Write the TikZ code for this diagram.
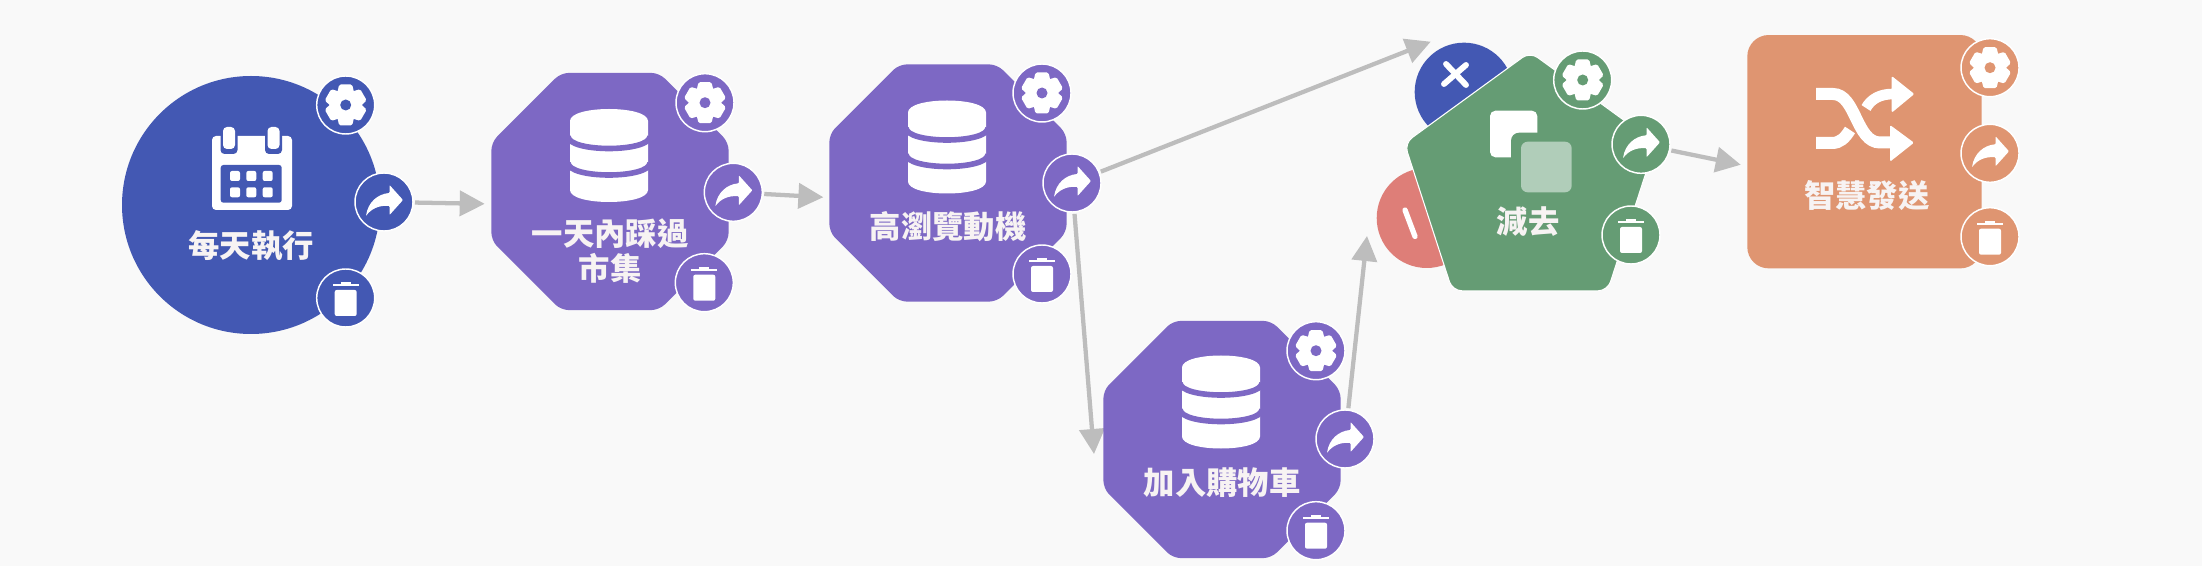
\documentclass[tikz,border=0pt]{standalone}
\usepackage{fontspec}
\usetikzlibrary{arrows.meta,shapes.geometric,backgrounds}
\newfontfamily\cjk{Noto Sans CJK TC}
\definecolor{bgc}{HTML}{F9F9F9}
\definecolor{bluec}{HTML}{4358B3}
\definecolor{purplec}{HTML}{7D68C4}
\definecolor{greenc}{HTML}{659C74}
\definecolor{orangec}{HTML}{DF9571}
\definecolor{redc}{HTML}{DE7E78}
\definecolor{lightg}{HTML}{B0CDB9}
\definecolor{linkc}{HTML}{BDBDBD}
\definecolor{labelc}{HTML}{F7F3F3}
\tikzset{
  badge/.style={circle,draw=white,line width=1.1pt,inner sep=0pt,outer sep=1.5pt,minimum size=43.5pt},
  octa/.style={regular polygon,regular polygon sides=8,fill=purplec,inner sep=0pt,outer sep=0pt,minimum size=192.6pt,rounded corners=6pt},
  label/.style={text=labelc,font=\cjk\bfseries\fontsize{23.5pt}{26.5pt}\selectfont,align=center,inner sep=0pt},
  link/.style={draw=linkc,line width=3.2pt,-{Triangle[length=18.75pt,width=18.75pt]}},
  icon/.style={fill=white,draw=none}
}
% gear, share and trash buttons of one block: #1 index, #2 colour, then three centres
\newcommand{\buttons}[8]{%
  \node[badge,fill=#2] (gear#1) at (#3,#4) {};
  \node[badge,fill=#2] (share#1) at (#5,#6) {};
  \node[badge,fill=#2] (trash#1) at (#7,#8) {};
  \begin{scope}[shift={(#3,#4)}]
    \fill[white] (0,0) circle (16);
    \foreach \a in {0,60,...,300}{
      \fill[white,rotate=\a,rounded corners=1.2pt] (-8.5,-12) -- (-6.5,-20.5) -- (6.5,-20.5) -- (8.5,-12) -- cycle;
    }
    \fill[#2] (0,0) circle (5.5);
  \end{scope}
  \begin{scope}[shift={(#5,#6)}]
    \fill[white,rounded corners=.6pt] (5.5,-17) -- (19,-2) -- (5.5,13) -- (5.5,4)
      .. controls (-5,3) and (-13,7) .. (-18,14)
      .. controls (-16,0) and (-6,-8) .. (5.5,-9) -- cycle;
  \end{scope}
  \begin{scope}[shift={(#7,#8)}]
    \fill[white] (-13,-13.5) rectangle (13,-11.5);
    \fill[white] (-5,-16) rectangle (5,-13);
    \fill[white,rounded corners=1.5pt] (-11,-8) rectangle (11,18);
  \end{scope}
}
% database icon centred on #1,#2 with gap colour purple
\newcommand{\dbicon}[2]{%
  \begin{scope}[shift={(#1,#2)}]
    \fill[white] (-39,-34.5) .. controls (-39,-50.5) and (39,-50.5) .. (39,-34.5)
      -- (39,34.5) .. controls (39,50.5) and (-39,50.5) .. (-39,34.5) -- cycle;
    \draw[purplec,line width=4.2pt] (-41,-19) .. controls (-40,-3) and (40,-3) .. (41,-19);
    \draw[purplec,line width=4.2pt] (-41,7.5) .. controls (-40,23.5) and (40,23.5) .. (41,7.5);
  \end{scope}
}
\begin{document}
\begin{tikzpicture}[x=0.75pt,y=-0.75pt]
\useasboundingbox (0,0) rectangle (2202,566);

% blocks
\node[circle,fill=bluec,inner sep=0pt,outer sep=0pt,minimum size=193.5pt] (n1) at (251,205) {};
\node[octa] (n2) at (610,191.5) {};
\node[octa] (n3) at (948,183) {};
\node[octa] (n5) at (1222,439.5) {};
\node[circle,fill=bluec,inner sep=0pt,minimum size=74pt] (yes) at (1464,92) {};
\node[circle,fill=redc,inner sep=0pt,minimum size=75pt] (no) at (1426.7,218) {};
\node[regular polygon,regular polygon sides=5,fill=greenc,draw=white,line width=.8pt,inner sep=0pt,outer sep=0pt,minimum size=198pt,rounded corners=7pt] (n4) at (1530,184) {};
\node[rectangle,fill=orangec,inner sep=0pt,outer sep=0pt,minimum width=175.8pt,minimum height=175pt,rounded corners=16pt] (n6) at (1864.5,151.7) {};

% calendar
\fill[white,rounded corners=3pt] (212,136) rectangle (292,210);
\foreach \x in {229,273.5}{
  \fill[bluec,rounded corners=3pt] (\x-8.5,122) rectangle (\x+8.5,154);
  \fill[white,rounded corners=3pt] (\x-6,127) rectangle (\x+6,149);
}
\fill[bluec,rounded corners=2pt] (220.7,165) rectangle (281.7,202.7);
\foreach \x in {235,251.3,267.7}{\foreach \y in {176,192.3}{
  \fill[white,rounded corners=1.5pt] (\x-5,\y-5) rectangle (\x+5,\y+5);
}}

% database icons
\dbicon{609}{155.5}
\dbicon{947}{147}
\dbicon{1221}{402}

% subtract icon
\fill[white,rounded corners=4pt] (1490,110.7) rectangle (1537.3,157.3);
\fill[greenc,rounded corners=6pt] (1511,132.7) rectangle (1578,199);
\fill[lightg,rounded corners=5pt] (1521,141.7) rectangle (1571.7,192.3);

% shuffle icon
\draw[white,line width=9pt] (1816,94) -- (1833,94) .. controls (1856,94) and (1856,142.5) .. (1880,142.5) -- (1893,142.5);
\draw[white,line width=9pt] (1816,143) -- (1832,143) .. controls (1840,143) and (1845,138) .. (1850,130);
\draw[white,line width=8pt] (1866,108) .. controls (1871,99) and (1880,94) .. (1893,94);
\fill[white,rounded corners=1pt] (1891.7,76) -- (1914.3,94) -- (1891.7,112.7) -- cycle;
\fill[white,rounded corners=1pt] (1890,125) -- (1914,142.7) -- (1890,161.7) -- cycle;

% intersect and exclude marks
\draw[white,line width=4.4pt,line cap=round] (1446,64) -- (1466,85);
\draw[white,line width=4.4pt,line cap=round] (1466,65) -- (1444,84);
\draw[white,line width=4pt,line cap=round] (1405,210) -- (1415,236.5);

% labels
\node[label] (t1) at (251,246) {每天執行};
\node[label] (t2) at (610,251) {一天內踩過\\市集};
\node[label] (t3) at (948,227) {高瀏覽動機};
\node[label] (t5) at (1222,483) {加入購物車};
\node[label] (t4) at (1528,222) {減去};
\node[label] (t6) at (1866.7,196) {智慧發送};

% buttons
\buttons{1}{bluec}{345.7}{105}{384}{202}{345.7}{298}
\buttons{2}{purplec}{705}{102.7}{733.3}{192.3}{704.3}{282.7}
\buttons{3}{purplec}{1042}{93}{1072}{183}{1042}{274}
\buttons{5}{purplec}{1316}{350.7}{1345}{439}{1316}{530.7}
\buttons{4}{greenc}{1582.7}{80}{1641}{144.3}{1631}{235}
\buttons{6}{orangec}{1990}{67.7}{1990}{153.3}{1990}{236.7}

% free ends of the connectors
\coordinate (tipyes) at (1430.7,41.7);
\coordinate (tipcart) at (1094,454);
\coordinate (tipno) at (1367,236);

\begin{pgfonlayer}{background}
  \fill[bgc] (0,0) rectangle (2202,566);
  \draw[link,shorten >=5pt] (share1) -- (n2.186);
  \draw[link,shorten >=4.5pt] (share2) -- (n3.187);
  \draw[link] (share3) -- (tipyes);
  \draw[link] (share3) -- (tipcart);
  \draw[link] (share5) -- (tipno);
  \draw[link,shorten >=5pt] (share4) -- (n6.187);
\end{pgfonlayer}
\end{tikzpicture}
\end{document}
